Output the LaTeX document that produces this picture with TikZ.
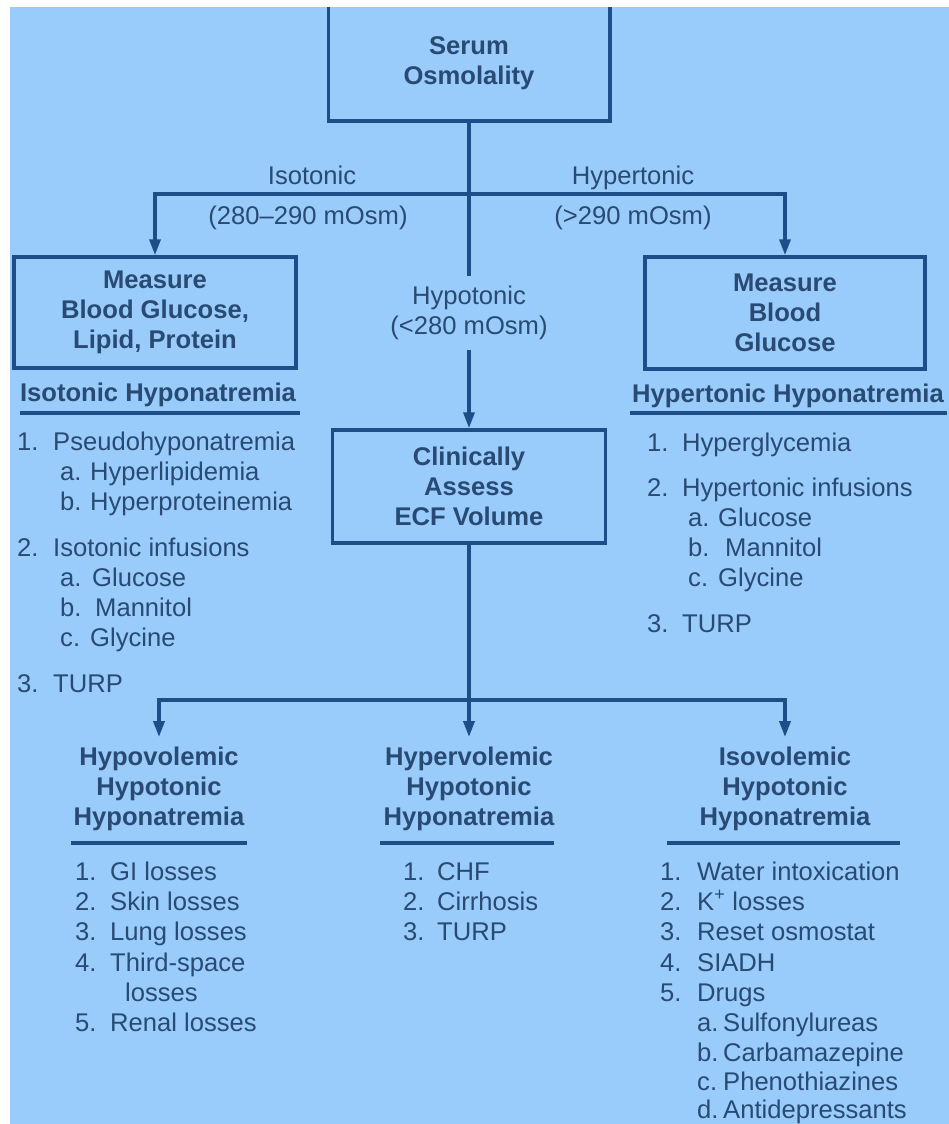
\documentclass[tikz,border=0pt]{standalone}
\usepackage{fontspec}
\setmainfont{Liberation Sans}
\usetikzlibrary{arrows.meta}
\definecolor{bgc}{RGB}{153,203,251}
\definecolor{lnc}{RGB}{30,78,135}
\definecolor{txc}{RGB}{40,74,115}
\newcommand{\fs}{\fontsize{25.6}{30}\selectfont}
\newcommand{\li}[6]{\node[itm] (#1) at (#2,#3) {\makebox[#4pt][l]{#5}#6};}
\begin{document}
\begin{tikzpicture}[x=1pt,y=-1pt,
 ln/.style={draw=lnc,line width=3.5pt},
 arr/.style={ln,-{Triangle[length=16pt,width=11pt]}},
 box/.style={draw=lnc,line width=3.5pt,rectangle,align=center,font=\fs\bfseries,text=txc,inner sep=0pt},
 lbl/.style={font=\fs,text=txc,inner sep=0pt},
 head/.style={font=\fs\bfseries,text=txc,inner sep=0pt,align=center},
 itm/.style={font=\fs,text=txc,inner sep=0pt,anchor=base west},
 uline/.style={draw=lnc,line width=3.5pt}]
\useasboundingbox (0,0) rectangle (949,1124);
\fill[bgc] (10,7) rectangle (949,1124);

% boxes
\node[box,draw=none,minimum width=278pt,minimum height=112pt] (serum) at (469,63) {Serum\\Osmolality};
\draw[ln] (serum.north west) |- (serum.south east) -- (serum.north east);
\node[box,minimum width=282pt,minimum height=111pt] (mbl) at (155,312.5) {Measure\\Blood Glucose,\\Lipid, Protein};
\node[box,minimum width=280pt,minimum height=112pt] (mbg) at (785,313) {Measure\\Blood\\Glucose};
\node[box,minimum width=273pt,minimum height=113pt] (clin) at (469,486.5) {Clinically\\Assess\\ECF Volume};

% branch labels
\node[lbl,align=center,minimum height=74pt] (hypo) at (469,313) {Hypotonic\\(<280 mOsm)};
\node[lbl,anchor=base] (isoL) at (312,184) {Isotonic};
\node[lbl,anchor=base] (isoR) at (308,224) {(280–290 mOsm)};
\node[lbl,anchor=base] (hypL) at (633,184) {Hypertonic};
\node[lbl,anchor=base] (hypR) at (633,224) {(>290 mOsm)};

% connectors top
\coordinate (jtop) at (469,194);
\draw[ln] (serum.south) -- (hypo.north);
\draw[arr] (jtop) -| (mbl.north);
\draw[arr] (jtop) -| (mbg.north);
\draw[arr] (hypo.south) -- (clin.north);

% headings top
\node[head,anchor=base] (isoH) at (158,401) {Isotonic Hyponatremia};
\draw[uline] (20,413) -- (300,413);
\node[head,anchor=base] (hypH) at (788,402) {Hypertonic Hyponatremia};
\draw[uline] (630,413) -- (947,413);

% left list
\li{l1}{17}{450}{36}{1.}{Pseudohyponatremia}
\li{l2}{60}{480}{30}{a.}{Hyperlipidemia}
\li{l3}{60}{510}{30}{b.}{Hyperproteinemia}
\li{l4}{17}{556}{36}{2.}{Isotonic infusions}
\li{l5}{60}{586}{32}{a.}{Glucose}
\li{l6}{60}{616}{35}{b.}{Mannitol}
\li{l7}{60}{646}{30}{c.}{Glycine}
\li{l8}{17}{692}{36}{3.}{TURP}

% right list
\li{r1}{647}{451}{35}{1.}{Hyperglycemia}
\li{r2}{647}{496}{35}{2.}{Hypertonic infusions}
\li{r3}{688}{526}{30}{a.}{Glucose}
\li{r4}{688}{556}{37}{b.}{Mannitol}
\li{r5}{688}{586}{30}{c.}{Glycine}
\li{r6}{647}{632}{35}{3.}{TURP}

% bottom headings
\node[head,outer ysep=10pt] (hypovol) at (159,789) {Hypovolemic\\Hypotonic\\Hyponatremia};
\node[head,outer ysep=10pt] (hypervol) at (469,789) {Hypervolemic\\Hypotonic\\Hyponatremia};
\node[head,outer ysep=10pt] (isovol) at (785,789) {Isovolemic\\Hypotonic\\Hyponatremia};
\draw[uline] (71,843) -- (247,843);
\draw[uline] (380,843) -- (554,843);
\draw[uline] (667,843) -- (900,843);

% connectors bottom
\coordinate (jbot) at (469,700);
\draw[ln] (clin.south) -- (jbot);
\draw[arr] (jbot) -| (hypovol.north);
\draw[arr] (jbot) -- (hypervol.north);
\draw[arr] (jbot) -| (isovol.north);

% bottom lists
\li{b1}{75}{880}{35}{1.}{GI losses}
\li{b2}{75}{910}{35}{2.}{Skin losses}
\li{b3}{75}{940}{35}{3.}{Lung losses}
\li{b4}{75}{971}{35}{4.}{Third-space}
\li{b5}{125}{1001}{0}{}{losses}
\li{b6}{75}{1031}{35}{5.}{Renal losses}

\li{m1}{403}{880}{34}{1.}{CHF}
\li{m2}{403}{910}{34}{2.}{Cirrhosis}
\li{m3}{403}{940}{34}{3.}{TURP}

\li{i1}{660}{880}{37}{1.}{Water intoxication}
\li{i2}{660}{910}{37}{2.}{K\textsuperscript{+} losses}
\li{i3}{660}{940}{37}{3.}{Reset osmostat}
\li{i4}{660}{971}{37}{4.}{SIADH}
\li{i5}{660}{1001}{37}{5.}{Drugs}
\li{i6}{697}{1031}{26}{a.}{Sulfonylureas}
\li{i7}{697}{1061}{26}{b.}{Carbamazepine}
\li{i8}{697}{1090}{26}{c.}{Phenothiazines}
\li{i9}{697}{1118}{26}{d.}{Antidepressants}

% white margins of the scan
\fill[white] (0,0) rectangle (949,7);
\fill[white] (0,0) rectangle (10,1124);
\end{tikzpicture}
\end{document}
